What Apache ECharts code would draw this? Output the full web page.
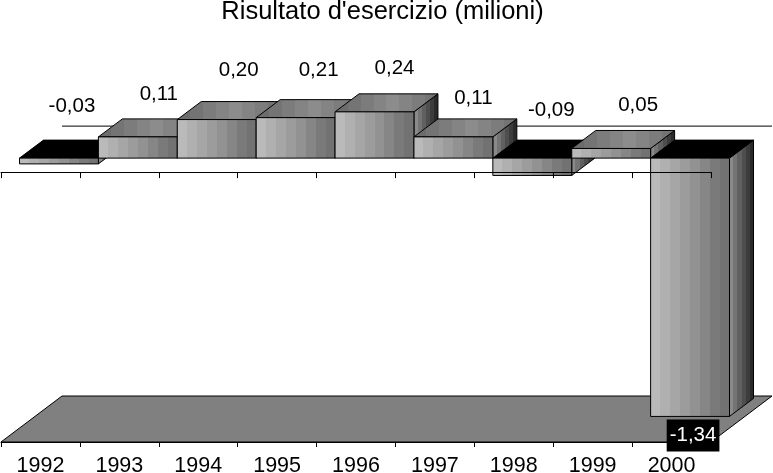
<!DOCTYPE html>
<html>
<head>
<meta charset="utf-8">
<style>html,body{margin:0;padding:0;background:#fff}#c{width:773px;height:473px}</style>
<script src="https://cdn.jsdelivr.net/npm/echarts@6/dist/echarts.min.js"></script>
</head>
<body>
<div id="c"></div>
<script>
const titleText = "Risultato d'esercizio (milioni)";
const years = ['1992','1993','1994','1995','1996','1997','1998','1999','2000'];
const results = [-0.03, 0.11, 0.20, 0.21, 0.24, 0.11, -0.09, 0.05, -1.34];

// label placement tweaks [dx, dy], layout only
const labelNudge = [[0,-9],[8,0],[9,-6],[10,-4.5],[7,-1],[7,4],[6,-5],[14,0],[-10,0]];

const FONT = '"Liberation Sans", Arial, sans-serif';
const Y_MIN = -1.4, Y_MAX = 0.4;
const BAR_OFF_X = 18.5, BAR_OFF_Y = -14;   // bar front plane relative to axis plane
const BAR_DX = 24, BAR_DY = -18;           // bar depth
const WALL_DX = 61, WALL_DY = -46;         // full chart depth

function bands(colors, x2, y2) {
  const stops = [];
  colors.forEach((c, i) => {
    stops.push({offset: i / colors.length, color: c});
    stops.push({offset: (i + 1) / colors.length, color: c});
  });
  return {type: 'linear', x: 0, y: 0, x2: x2, y2: y2, colorStops: stops};
}
const FRONT = bands(['#bababa','#b0b0b0','#a6a6a6','#9c9c9c','#929292','#868686','#7a7a7a','#727272'], 1, 0);
const TOP = bands(['#6c6c6c','#747474','#7c7c7c','#848484','#8c8c8c','#848484','#7c7c7c','#747474'], 1, 0);
const SIDE = bands(['#8a8a8a','#747474','#606060','#4e4e4e','#3c3c3c','#2a2a2a'], 1, 0);

function poly(points, fill, z2) {
  return {type: 'polygon', z2: z2, shape: {points: points},
          style: {fill: fill, stroke: '#000', lineWidth: 1}};
}

function renderBackdrop(params, api) {
  const w = api.size([1, 0])[0];
  const fl = api.coord([0, Y_MIN]), fr = api.coord([years.length - 1, Y_MIN]);
  const zero = api.coord([0, 0]);
  const L = fl[0] - w / 2, R = fr[0] + w / 2, B = fl[1];
  return {type: 'group', children: [
    {type: 'polygon', z2: 1,
     shape: {points: [[L, B], [L + WALL_DX, B + WALL_DY], [R + WALL_DX, B + WALL_DY], [R, B]]},
     style: {fill: '#808080', stroke: '#000', lineWidth: 1}},
    {type: 'line', z2: 1,
     shape: {x1: L + WALL_DX, y1: zero[1] + WALL_DY, x2: R + WALL_DX, y2: zero[1] + WALL_DY},
     style: {stroke: '#000', lineWidth: 1}}
  ]};
}

function renderBar(params, api) {
  const i = api.value(0), v = api.value(1);
  const w = api.size([1, 0])[0];
  const c0 = api.coord([i, 0]), c1 = api.coord([i, v]);
  const L = c0[0] - w / 2 + BAR_OFF_X, R = L + w;
  const y0 = c0[1] + BAR_OFF_Y, yv = c1[1] + BAR_OFF_Y;
  const top = Math.min(y0, yv), bot = Math.max(y0, yv);
  const neg = v < 0;
  const z = neg ? 10 : 20;
  const capFill = neg ? '#000' : TOP;
  const txt = v.toFixed(2).replace('.', ',');
  const n = labelNudge[i];
  const boxed = v < -1;
  const lx = (L + R) / 2 + BAR_DX / 2 + 1 + n[0];
  const ly = boxed ? bot + 19 : top + BAR_DY - 25 + n[1];
  return {type: 'group', children: [
    poly([[R, top], [R + BAR_DX, top + BAR_DY], [R + BAR_DX, bot + BAR_DY], [R, bot]], SIDE, z),
    poly([[L, top], [L + BAR_DX, top + BAR_DY], [R + BAR_DX, top + BAR_DY], [R, top]], capFill, z + 1),
    poly([[L, top], [R, top], [R, bot], [L, bot]], FRONT, z + 2),
    {type: 'text', z2: 40, x: lx, y: ly,
     style: Object.assign({text: txt, font: '20.5px ' + FONT, align: 'center', verticalAlign: 'middle',
                           fill: boxed ? '#fff' : '#000'},
                          boxed ? {backgroundColor: '#000', padding: [6, 3, 5, 3]} : {})}
  ]};
}

const chart = echarts.init(document.getElementById('c'), null, {renderer: 'canvas'});
const axisLabelStyle = {fontFamily: FONT, fontSize: 21.5, color: '#000', margin: 13};
chart.setOption({
  animation: false,
  backgroundColor: '#fff',
  title: {text: titleText, left: 377.5, textAlign: 'center', top: -6,
          textStyle: {fontFamily: FONT, fontSize: 25.5, fontWeight: 'normal', color: '#000'}},
  grid: {left: 1, width: 710, top: 95, height: 347, outerBoundsMode: 'none'},
  xAxis: [
    {type: 'category', data: years, position: 'bottom', z: 1,
     axisLine: {onZero: false, lineStyle: {color: '#000', width: 1}},
     axisTick: {show: true, length: 5, alignWithLabel: false, lineStyle: {color: '#000'}},
     axisLabel: Object.assign({interval: 0}, axisLabelStyle),
     splitLine: {show: false}},
    {type: 'category', data: years, position: 'top', z: 30,
     axisLine: {show: true, onZero: true, lineStyle: {color: '#000', width: 1}},
     axisTick: {show: true, inside: true, length: 6, lineStyle: {color: '#000'}},
     axisLabel: {show: false},
     splitLine: {show: false}}
  ],
  yAxis: {type: 'value', min: Y_MIN, max: Y_MAX, interval: 0.2, show: false},
  series: [
    {type: 'custom', name: 'floor', xAxisIndex: 0, z: 0, silent: true,
     data: [[0, Y_MIN]], renderItem: renderBackdrop, clip: false},
    {type: 'custom', name: 'Risultato', xAxisIndex: 0, z: 2, silent: true,
     data: results.map((v, i) => [i, v]), encode: {x: 0, y: 1},
     renderItem: renderBar, clip: false}
  ]
});
</script>
</body>
</html>
